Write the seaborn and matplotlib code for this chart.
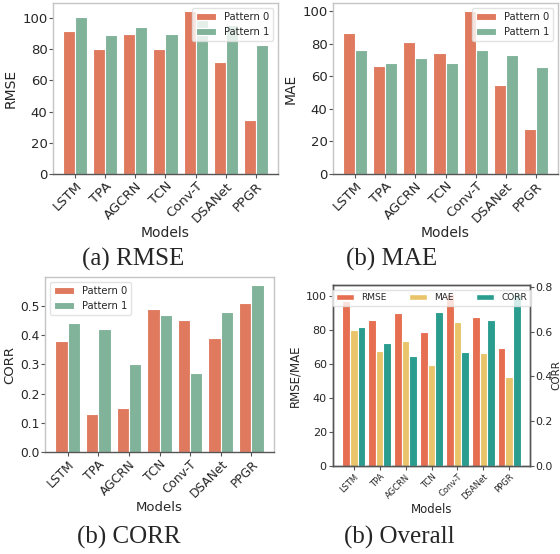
import numpy as np
import pandas as pd
import matplotlib
matplotlib.use("Agg")
import matplotlib.pyplot as plt
import seaborn as sns
from matplotlib.patches import Patch

models = ['LSTM', 'TPA', 'AGCRN', 'TCN', 'Conv-T', 'DSANet', 'PPGR']
patterns = ['Pattern 0', 'Pattern 1']
rmse_p0 = [91.5, 80.5, 89.5, 80.5, 104.5, 72.0, 34.5]
rmse_p1 = [100.5, 89.0, 94.5, 90.0, 100.0, 95.5, 82.5]
mae_p0 = [86.5, 66.5, 81.0, 74.0, 100.0, 54.5, 27.5]
mae_p1 = [76.0, 68.0, 71.5, 68.0, 76.0, 73.0, 66.0]
corr_p0 = [0.38, 0.13, 0.15, 0.49, 0.45, 0.39, 0.51]
corr_p1 = [0.44, 0.42, 0.30, 0.47, 0.27, 0.48, 0.57]
overall_rmse = [97.0, 86.0, 90.0, 79.0, 101.5, 88.0, 69.5]
overall_mae = [80.0, 67.5, 73.5, 59.5, 85.0, 66.5, 52.5]
overall_corr = [0.62, 0.55, 0.49, 0.69, 0.51, 0.65, 0.77]
metrics = ['RMSE', 'MAE', 'CORR']

pat_colors = {'Pattern 0': '#E07A5F', 'Pattern 1': '#81B29A'}
met_colors = {'RMSE': '#E76F51', 'MAE': '#E9C46A', 'CORR': '#2A9D8F'}

sns.set_style('white')
plt.rcParams['font.family'] = ['DejaVu Sans']

W, H = 560, 554
fig = plt.figure(figsize=(W / 100, H / 100), dpi=100)


def add_ax(l, r, t, b):
    return fig.add_axes([l / W, 1 - b / H, (r - l) / W, (b - t) / H])


def long_df(p0, p1):
    return pd.DataFrame({'Models': models * 2,
                         'value': list(p0) + list(p1),
                         'Pattern': [patterns[0]] * len(models) + [patterns[1]] * len(models)})


def style_axes(ax, light='#c4c4c4', dark='#555555'):
    for s in ['top', 'right', 'left']:
        ax.spines[s].set_color(light)
    ax.spines['bottom'].set_color(dark)
    for s in ax.spines.values():
        s.set_linewidth(1.0)
        s.set_visible(True)


def pattern_panel(ax, p0, p1, ylabel, ymax, yticks, loc, fs=9.5, lfs=10):
    df = long_df(p0, p1)
    sns.barplot(data=df, x='Models', y='value', hue='Pattern', hue_order=patterns,
                palette=pat_colors, ax=ax, width=0.8, saturation=1, errorbar=None,
                edgecolor='white', linewidth=0.8)
    ax.set_xlim(-0.74, 6.74)
    ax.set_ylim(0, ymax)
    ax.set_yticks(yticks)
    ax.set_xlabel('Models', fontsize=lfs, labelpad=0.5)
    ax.set_ylabel(ylabel, fontsize=lfs, labelpad=3)
    ax.tick_params(axis='both', labelsize=fs, length=3, width=0.8, left=True, bottom=True,
                   color='#555555', pad=1)
    plt.setp(ax.get_xticklabels(), rotation=45, ha='right', rotation_mode='anchor')
    ax.legend(loc=loc, fontsize=7.2, framealpha=0.8, edgecolor='#dddddd')
    style_axes(ax)


# (a) RMSE
ax_a = add_ax(53, 278, 3, 174)
pattern_panel(ax_a, rmse_p0, rmse_p1, 'RMSE', 109.7, [0, 20, 40, 60, 80, 100], 'upper right')

# (b) MAE
ax_b = add_ax(333, 558, 3, 174)
pattern_panel(ax_b, mae_p0, mae_p1, 'MAE', 105.0, [0, 20, 40, 60, 80, 100], 'upper right')

# (c) CORR
ax_c = add_ax(45, 274, 277, 452)
pattern_panel(ax_c, corr_p0, corr_p1, 'CORR', 0.5985, [0.0, 0.1, 0.2, 0.3, 0.4, 0.5],
              'upper left', fs=8.8, lfs=9.5)

# (d) Overall
ax_d = add_ax(333, 530, 285, 466)
df_lm = pd.DataFrame({'Models': models * 2,
                      'value': overall_rmse + overall_mae,
                      'Metric': ['RMSE'] * 7 + ['MAE'] * 7})
df_c = pd.DataFrame({'Models': models, 'value': overall_corr, 'Metric': ['CORR'] * 7})
sns.barplot(data=df_lm, x='Models', y='value', hue='Metric', hue_order=metrics,
            palette=met_colors, ax=ax_d, width=0.9, saturation=1, errorbar=None,
            edgecolor='white', linewidth=0.8, legend=False, dodge=True)
ax_d2 = ax_d.twinx()
sns.barplot(data=df_c, x='Models', y='value', hue='Metric', hue_order=metrics,
            palette=met_colors, ax=ax_d2, width=0.9, saturation=1, errorbar=None,
            edgecolor='white', linewidth=0.8, legend=False, dodge=True)
ax_d.set_xlim(-0.795, 6.795)
ax_d.set_ylim(0, 106.7)
ax_d2.set_ylim(0, 0.8085)
ax_d.set_yticks([0, 20, 40, 60, 80, 100])
ax_d2.set_yticks([0.0, 0.2, 0.4, 0.6, 0.8])
ax_d.set_xlabel('Models', fontsize=8.5, labelpad=1)
ax_d.set_ylabel('RMSE/MAE', fontsize=8.5, labelpad=3)
ax_d2.set_ylabel('CORR', fontsize=7.5)
ax_d2.yaxis.set_label_coords((556.5 - 333) / 197, 0.5)
ax_d2.yaxis.label.set_va('center')
ax_d2.set_xlabel('')
ax_d.tick_params(axis='y', labelsize=8, length=3, left=True, color='#555555', pad=1.5)
ax_d.tick_params(axis='x', labelsize=6, length=3, bottom=True, color='#555555', pad=1.5)
ax_d2.tick_params(axis='y', labelsize=7.8, length=3, right=True, color='#555555', pad=1)
plt.setp(ax_d.get_xticklabels(), rotation=45, ha='right', rotation_mode='anchor')
for a in (ax_d, ax_d2):
    for s in a.spines.values():
        s.set_color('#555555')
        s.set_linewidth(1.0)
        s.set_visible(True)
handles = [Patch(facecolor=met_colors[m], label=m) for m in metrics]
ax_d2.legend(handles=handles, loc='upper center', ncol=3, fontsize=6.5, framealpha=0.8,
             edgecolor='#dddddd', columnspacing=2.5)

# captions
cap = dict(family='Liberation Serif', fontsize=18, ha='center', va='center')
fig.text(133 / W, 1 - 259 / H, '(a) RMSE', **cap)
fig.text(392 / W, 1 - 259 / H, '(b) MAE', **cap)
fig.text(129 / W, 1 - 537 / H, '(b) CORR', **cap)
fig.text(399 / W, 1 - 537 / H, '(b) Overall', **cap)

fig.savefig('out.png', dpi=100)
